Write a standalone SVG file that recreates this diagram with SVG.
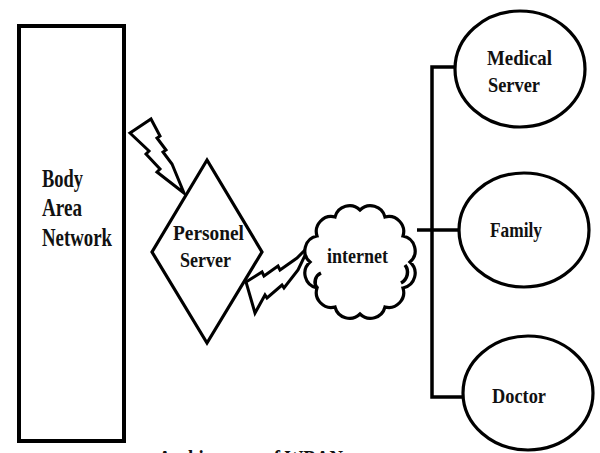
<svg xmlns="http://www.w3.org/2000/svg" width="600" height="453" viewBox="0 0 600 453">
<style>
.s{fill:#fff;stroke:#000;stroke-width:3.2;stroke-linejoin:miter}
.c{fill:none;stroke:#000;stroke-width:3.5}
.b{fill:#fff;stroke:#000;stroke-width:3;stroke-linejoin:miter}
text{font-family:"Liberation Serif","Times New Roman",serif;font-weight:bold;font-size:22px;fill:#111}
.big{font-size:25px}
</style>
<rect width="600" height="453" fill="#fff"/>
<g id="connectors">
<polyline class="c" points="454,67 432,67 432,397 463,397"/>
<line class="c" x1="417" y1="230" x2="458" y2="230"/>
<polygon class="b" points="130,133 151,119 160,136 157,138 166,150 163,152 172,164 184,193 157,172 160,169 146,154 149,151"/>
</g>
<g id="body-area-network">
<rect x="19" y="26" width="105" height="415" fill="#fff" stroke="#000" stroke-width="4"/>
<text class="big" x="42" y="187" textLength="41" lengthAdjust="spacingAndGlyphs">Body</text>
<text class="big" x="42" y="216" textLength="40" lengthAdjust="spacingAndGlyphs">Area</text>
<text class="big" x="42" y="246" textLength="70" lengthAdjust="spacingAndGlyphs">Network</text>
</g>
<g id="personel-server">
<polygon class="s" points="207,160 262,252 207,343 152,252"/>
<text x="173" y="240" textLength="71" lengthAdjust="spacingAndGlyphs">Personel</text>
<text x="180" y="267" textLength="51" lengthAdjust="spacingAndGlyphs">Server</text>
</g>
<g id="bolt2">
<polygon class="b" points="246,282 262,272 264,276 278,266 280,270 297,258 310,245 298,270 284,288 282,285 267,298 265,295 255,313"/>
</g>
<g id="internet">
<path class="s" d="M410,262 A15,15 0 0 1 403,288 A15,15 0 0 1 385,307 A15,15 0 0 1 360,314 A15,15 0 0 1 335,307 A15,15 0 0 1 317,288 A15,15 0 0 1 310,262 A15,15 0 0 1 317,236 A15,15 0 0 1 335,217 A15,15 0 0 1 360,210 A15,15 0 0 1 385,217 A15,15 0 0 1 403,236 A15,15 0 0 1 410,262 Z"/>
<path class="c" d="M317,288 A10,10 0 0 1 321,273 M401,283 A12,12 0 0 0 405,265" stroke-width="3"/>
<text x="327" y="263" textLength="61" lengthAdjust="spacingAndGlyphs">internet</text>
</g>
<g id="medical-server">
<ellipse class="s" cx="520" cy="69" rx="65" ry="58"/>
<text x="487" y="65" textLength="65" lengthAdjust="spacingAndGlyphs">Medical</text>
<text x="488" y="92" textLength="52" lengthAdjust="spacingAndGlyphs">Server</text>
</g>
<g id="family">
<ellipse class="s" cx="524" cy="230" rx="65" ry="57"/>
<text x="490" y="237" textLength="52" lengthAdjust="spacingAndGlyphs">Family</text>
</g>
<g id="doctor">
<ellipse class="s" cx="528" cy="393" rx="65" ry="57"/>
<text x="492" y="403" textLength="54" lengthAdjust="spacingAndGlyphs">Doctor</text>
</g>
<text x="158" y="465" textLength="185" lengthAdjust="spacingAndGlyphs">Architecture of WBAN</text>
</svg>
